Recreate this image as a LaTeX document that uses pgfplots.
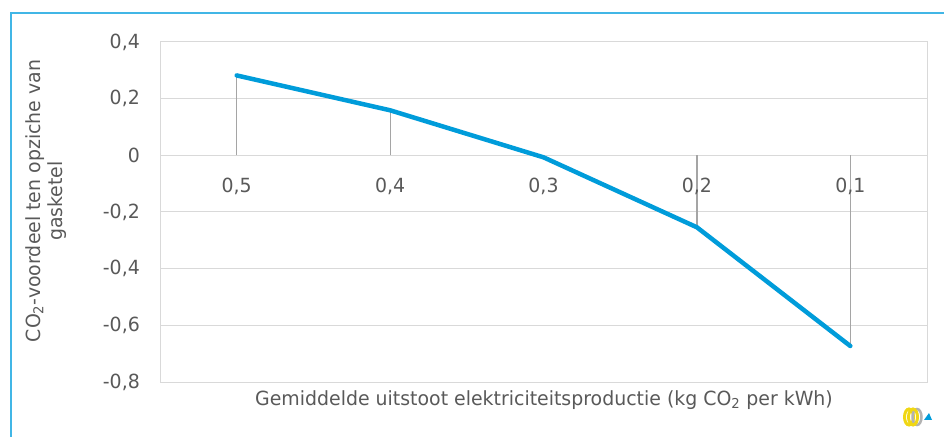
\documentclass[border=0pt]{standalone}
\usepackage{fontspec}
\setmainfont[FakeStretch=0.97]{DejaVu Sans}
\usepackage{pgfplots}
\pgfplotsset{compat=1.18}
\definecolor{txt}{RGB}{89,89,89}
\definecolor{grd}{RGB}{217,217,217}
\definecolor{ln}{RGB}{0,156,218}
\definecolor{frm}{RGB}{65,182,230}
\definecolor{drop}{RGB}{165,165,165}
\definecolor{logoy}{RGB}{240,215,20}
\begin{document}
\begin{tikzpicture}[font=\fontsize{19.5bp}{22bp}\selectfont]
\useasboundingbox (0,0) rectangle (944bp,437bp);
\draw[frm,line width=1.5bp] (11bp,0) -- (11bp,424bp) -- (944bp,424bp);
\begin{axis}[at={(160bp,55bp)},anchor=south west,width=767bp,height=340bp,scale only axis,
  xmin=-0.5,xmax=4.5,ymin=-0.8,ymax=0.4,
  xtick=\empty,
  ytick={-0.8,-0.6,-0.4,-0.2,0,0.2,0.4},
  yticklabels={{-0,8},{-0,6},{-0,4},{-0,2},{0},{0,2},{0,4}},
  major tick length=0,
  yticklabel style={anchor=east,inner sep=0pt,xshift=-20bp,text=txt},
  ymajorgrids, grid style={grd,line width=1bp},
  axis line style={grd,line width=1bp},
  clip=false]
\addplot[ycomb, drop, line width=1.2bp, no marks] coordinates {(0,0.282)(1,0.159)(2,-0.007)(3,-0.254)(4,-0.673)};
\addplot[ln, line width=4.5bp, no marks, line join=round, line cap=round] coordinates {(0,0.282)(1,0.159)(2,-0.007)(3,-0.254)(4,-0.673)};
\node[text=txt] at (axis cs:0,-0.11) {0,5};
\node[text=txt] at (axis cs:1,-0.11) {0,4};
\node[text=txt] at (axis cs:2,-0.11) {0,3};
\node[text=txt] at (axis cs:3,-0.11) {0,2};
\node[text=txt] at (axis cs:4,-0.11) {0,1};
\end{axis}
\node[text=txt] at (544bp,37bp) {Gemiddelde uitstoot elektriciteitsproductie (kg CO\textsubscript{2} per kWh)};
\node[text=txt,rotate=90,align=center,inner sep=0pt] at (46bp,236bp) {CO\textsubscript{2}-voordeel ten opziche van\\gasketel};
% small logo
\begin{scope}[shift={(915bp,20bp)}]
\draw[logoy,line width=3bp] (-6bp,0) ellipse (4.5bp and 8bp);
\draw[gray!60,line width=2.5bp] (2bp,0) ellipse (4.5bp and 8bp);
\draw[logoy,line width=3bp] (-2bp,0) ellipse (4.5bp and 8bp);
\fill[ln] (9bp,-3bp) -- (17bp,-3bp) -- (14bp,4bp) -- cycle;
\end{scope}
\end{tikzpicture}
\end{document}
